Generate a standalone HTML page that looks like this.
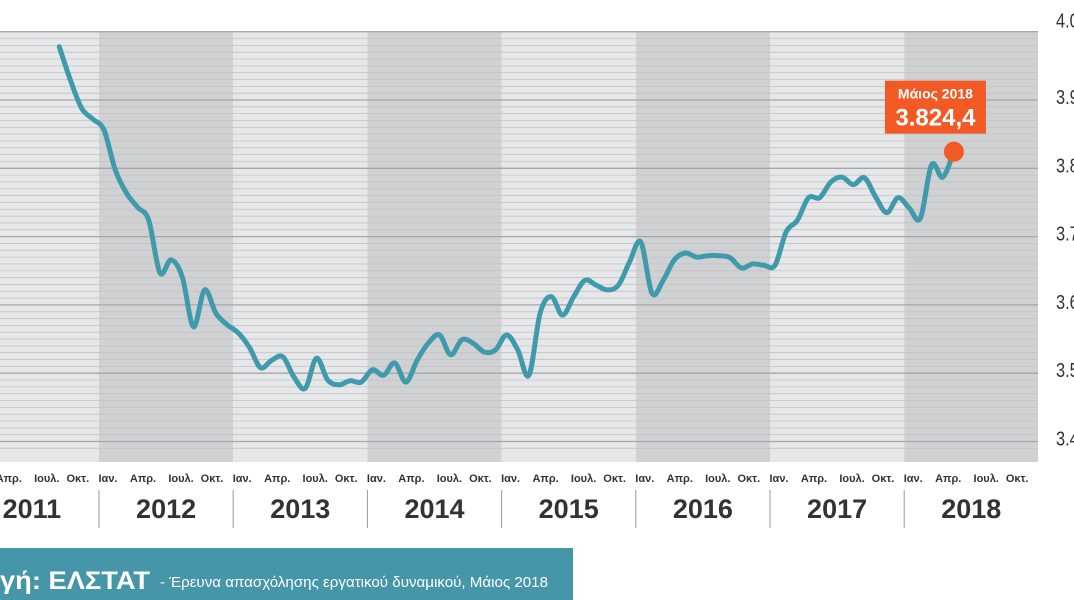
<!DOCTYPE html>
<html><head><meta charset="utf-8"><style>
html,body{margin:0;padding:0;background:#fff;width:1074px;height:600px;overflow:hidden}
svg{display:block}
text{font-family:"Liberation Sans Narrow","Liberation Sans","DejaVu Sans",sans-serif}
</style></head><body>
<svg id="chart" width="1074" height="600" viewBox="0 0 1074 600" xmlns="http://www.w3.org/2000/svg">
<g id="bands"></g>
<g id="grid"></g>
<g id="yaxis"></g>
<g id="xaxis"></g>
<path id="line" fill="none" stroke="#3f9aab" stroke-width="5" stroke-linejoin="round" stroke-linecap="round"></path>
<g id="callout"></g>
<g>
<rect x="0" y="548" width="573" height="52" fill="#4596a8"></rect>
<text x="0" y="589" fill="#fff" font-size="25" font-weight="bold" textLength="150" lengthAdjust="spacingAndGlyphs">γή: ΕΛΣΤΑΤ</text>
<text x="160" y="587" fill="#fff" font-size="15" textLength="388" lengthAdjust="spacingAndGlyphs">- Έρευνα απασχόλησης εργατικού δυναμικού, Μάιος 2018</text>
</g>
</svg>
<script>
// Monthly values (thousands), Sep 2011 .. May 2018
const startMonth = 8; // months since Jan 2011
const values = [3978,3929,3888,3872,3856,3798,3764,3743,3724,3647,3666,3641,3568,3622,3588,3571,3559,3538,3508,3519,3524,3494,3478,3522,3490,3483,3489,3487,3505,
3497,3515,3487,3519,3544,3556,3527,3549,3544,3531,3534,3556,3534,3497,3588,3612,3585,3612,3636,3629,3622,3629,3663,3692,3617,3636,3666,3676,3670,
3672,3672,3669,3654,3660,3658,3658,3707,3724,3757,3757,3780,3787,3776,3786,3758,3735,3757,3742,3727,3805,3787,3824.4];
const years = [2011,2012,2013,2014,2015,2016,2017,2018];
const yTicks = [3400,3500,3600,3700,3800,3900,4000];
const yTickLabels = ["3.400","3.500","3.600","3.700","3.800","3.900","4.000"];
const monthLabels = ["Ιαν.","Απρ.","Ιουλ.","Οκτ."];
const calloutTitle = "Μάιος 2018";
const calloutValue = "3.824,4";

const NS="http://www.w3.org/2000/svg";
const plotTop=31, plotBottom=462, plotRight=1038;
const yearW=134.2, yearStart0=99-yearW;
function xYear(i){return yearStart0+i*yearW;}
function xMonth(m){return yearStart0+5+m*yearW/12;}
function yVal(v){return 100+(3900-v)*0.683;}
function mk(tag,attrs,parent){const e=document.createElementNS(NS,tag);for(const k in attrs)e.setAttribute(k,attrs[k]);parent.appendChild(e);return e;}

const bands=document.getElementById('bands');
years.forEach((yr,i)=>{
  const x0=Math.max(0,xYear(i)), x1=Math.min(plotRight,xYear(i+1));
  const r=mk('rect',{x:x0,y:plotTop,width:x1-x0,height:plotBottom-plotTop,fill:(i%2?'#d0d1d3':'#e6e7e9')},bands);
  
  
});
const grid=document.getElementById('grid');
for(let v=3390;v<=4000;v+=10){
  const y=yVal(v); if(y<plotTop||y>plotBottom)continue;
  const major=(v%100===0);
  const l=mk('line',{x1:0,x2:plotRight,y1:y,y2:y,stroke:major?'#a5a6a8':'#c2c3c5','stroke-width':major?1.3:0.8},grid);
  
  
}
const yaxis=document.getElementById('yaxis');
yTicks.forEach((v,i)=>{
  const yy = v===4000 ? yVal(v)-4 : yVal(v)+4;
  const t=mk('text',{x:1056,y:yy,'font-size':20,fill:'#333',transform:'translate(1056,0) scale(0.82,1) translate(-1056,0)'},yaxis);
  t.textContent=yTickLabels[i];
  
  
});
const xaxis=document.getElementById('xaxis');
const monthOff=[9,44,82,113];
years.forEach((yr,i)=>{
  const xs=xYear(i);
  monthLabels.forEach((ml,j)=>{
    const t=mk('text',{x:xs+monthOff[j],y:482,'font-size':11,'font-weight':'bold',fill:'#333','text-anchor':'middle'},xaxis);
    t.textContent=ml;
    
    
  });
  const t=mk('text',{x:xs+yearW/2,y:518,'font-size':27,'font-weight':'bold',fill:'#333','text-anchor':'middle'},xaxis);
  t.textContent=String(yr);
  
  
  if(i>0){
    const l=mk('line',{x1:xs,x2:xs,y1:490,y2:528,stroke:'#999','stroke-width':1},xaxis);
    
    
  }
});
// line (catmull-rom smoothing)
const pts=values.map((v,i)=>[xMonth(startMonth+i),yVal(v)]);
let d='M'+pts[0][0]+','+pts[0][1];
for(let i=0;i<pts.length-1;i++){
  const p0=pts[Math.max(0,i-1)],p1=pts[i],p2=pts[i+1],p3=pts[Math.min(pts.length-1,i+2)];
  const c1=[p1[0]+(p2[0]-p0[0])/6,p1[1]+(p2[1]-p0[1])/6];
  const c2=[p2[0]-(p3[0]-p1[0])/6,p2[1]-(p3[1]-p1[1])/6];
  d+=' C'+c1[0]+','+c1[1]+' '+c2[0]+','+c2[1]+' '+p2[0]+','+p2[1];
}
document.getElementById('line').setAttribute('d',d);
// callout
const co=document.getElementById('callout');
const last=pts[pts.length-1];
const dot=mk('circle',{cx:last[0],cy:last[1],r:10,fill:'#f15a24'},co);


const bx=last[0]-69, by=last[1]-71;
const box=mk('rect',{x:bx,y:by,width:101,height:53,fill:'#f15a24'},co);


const t1=mk('text',{x:bx+50.5,y:by+18,'font-size':14,'font-weight':'bold',fill:'#fff','text-anchor':'middle'},co);
t1.textContent=calloutTitle;


const t2=mk('text',{x:bx+50.5,y:by+45,'font-size':24,'font-weight':'bold',fill:'#fff','text-anchor':'middle'},co);
t2.textContent=calloutValue;


</script>
</body></html>
